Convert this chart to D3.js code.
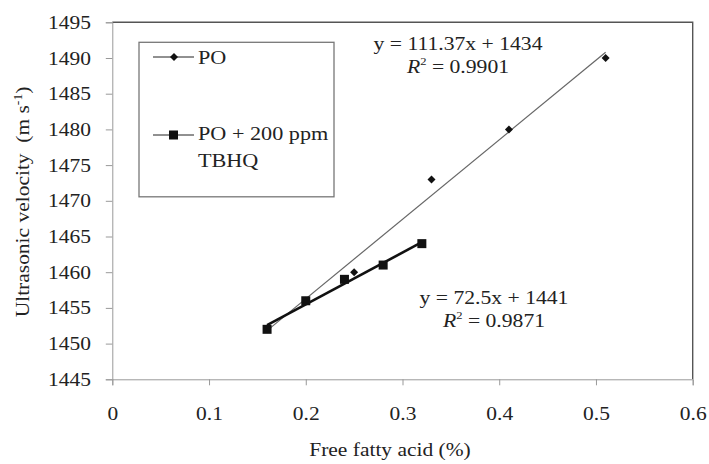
<!DOCTYPE html>
<html>
<head>
<meta charset="utf-8">
<script src="https://cdn.jsdelivr.net/npm/d3@7"></script>
<style>
  body { margin: 0; background: #fff; }
  svg text { font-family: "Liberation Serif", "DejaVu Serif", serif; fill: #222; }
</style>
</head>
<body>
<div id="chart"></div>
<script>
// data
var xTicks = [0, 0.1, 0.2, 0.3, 0.4, 0.5, 0.6];
var yTicks = [1445, 1450, 1455, 1460, 1465, 1470, 1475, 1480, 1485, 1490, 1495];

var poX = [0.16, 0.2, 0.25, 0.33, 0.41, 0.51];
var poY = [1452, 1456, 1460, 1473, 1480, 1490];

var tbhqX = [0.16, 0.2, 0.24, 0.28, 0.32];
var tbhqY = [1452, 1456, 1459, 1461, 1464];

// trend lines (slope, intercept) as printed on the chart
var poFit = [111.37, 1434];
var tbhqFit = [72.5, 1441];

var W = 709, H = 464;
var margin = {top: 22.3, right: 16.3, bottom: 84.7, left: 112.3};
var SX = 1.13; // the source picture's text is a bit wide

var svg = d3.select("#chart").append("svg")
    .attr("width", W)
    .attr("height", H);

var x = d3.scaleLinear().domain([0, 0.6]).range([margin.left, W - margin.right]);
var y = d3.scaleLinear().domain([1445, 1495]).range([H - margin.bottom, margin.top]);

// wide text placed at (px,py)
function wideText(px, py, size, k, anchor) {
    return svg.append("text")
        .attr("transform", "translate(" + px + "," + py + ") scale(" + k + ",1)")
        .attr("text-anchor", anchor || "start")
        .style("font-size", size + "px");
}

// top and right frame
svg.append("path")
    .attr("d", "M" + x(0) + "," + y(1495) + "H" + x(0.6) + "V" + y(1445))
    .attr("fill", "none")
    .attr("stroke", "#555")
    .attr("stroke-width", 1.4);

// y axis
var yAxis = svg.append("g")
    .attr("transform", "translate(" + x(0) + ",0)")
    .call(d3.axisLeft(y).tickValues(yTicks).tickSize(6.5).tickFormat(d3.format("d")));
yAxis.attr("font-family", null);
yAxis.select(".domain").attr("stroke", "#999");
yAxis.selectAll(".tick line").attr("stroke", "#999");
yAxis.selectAll(".tick text")
    .attr("x", (91 - x(0)) / SX)
    .attr("transform", "scale(" + SX + ",1)")
    .style("font-size", "19px")
    .attr("fill", "#222");

// x axis
var xAxis = svg.append("g")
    .attr("transform", "translate(0," + y(1445) + ")")
    .call(d3.axisBottom(x).tickValues(xTicks).tickSize(6).tickFormat(function(d) { return d === 0 ? "0" : d3.format(".1f")(d); }));
xAxis.attr("font-family", null);
xAxis.select(".domain").attr("stroke", "#999");
xAxis.selectAll(".tick line").attr("stroke", "#999");
xAxis.selectAll(".tick text")
    .attr("y", 420 - y(1445))
    .attr("dy", null)
    .attr("transform", "scale(" + SX + ",1)")
    .style("font-size", "19px")
    .attr("fill", "#222");

// axis titles
wideText(390, 456, 19, SX, "middle").text("Free fatty acid (%)");

var yt = svg.append("text")
    .attr("transform", "translate(28.5,202) rotate(-90) scale(" + SX + ",1)")
    .attr("text-anchor", "middle")
    .style("font-size", "19px")
    .style("white-space", "pre");
yt.append("tspan").text("Ultrasonic velocity  (m s");
yt.append("tspan").attr("dy", -7).style("font-size", "12px").text("-1");
yt.append("tspan").attr("dy", 7).text(")");

// trend lines
function trend(xs, fit) {
    var lo = d3.min(xs), hi = d3.max(xs);
    return [[lo, fit[0] * lo + fit[1]], [hi, fit[0] * hi + fit[1]]];
}
var line = d3.line().x(function(d) { return x(d[0]); }).y(function(d) { return y(d[1]); });

svg.append("path")
    .attr("d", line(trend(poX, poFit)))
    .attr("fill", "none")
    .attr("stroke", "#666")
    .attr("stroke-width", 1.2);

svg.append("path")
    .attr("d", line(trend(tbhqX, tbhqFit)))
    .attr("fill", "none")
    .attr("stroke", "#111")
    .attr("stroke-width", 2.6);

// markers
var diamond = "M0,-4L4,0L0,4L-4,0Z";
svg.selectAll(".po")
    .data(poX)
    .enter()
    .append("path")
    .attr("class", "po")
    .attr("d", diamond)
    .attr("transform", function(d, i) { return "translate(" + x(d) + "," + y(poY[i]) + ")"; })
    .attr("fill", "#111");

svg.selectAll(".tbhq")
    .data(tbhqX)
    .enter()
    .append("rect")
    .attr("class", "tbhq")
    .attr("x", function(d) { return x(d) - 4.5; })
    .attr("y", function(d, i) { return y(tbhqY[i]) - 4.5; })
    .attr("width", 9)
    .attr("height", 9)
    .attr("fill", "#111");

// equations
function equation(cx, cy, eq, r2) {
    wideText(cx, cy, 19, 1.14, "middle").text(eq);
    var t = wideText(cx, cy + 23, 19, 1.14, "middle");
    t.append("tspan").style("font-style", "italic").text("R");
    t.append("tspan").attr("dy", -8).style("font-size", "11px").text("2");
    t.append("tspan").attr("dy", 8).text(" = " + r2);
}
equation(458, 50, "y = 111.37x + 1434", "0.9901");
equation(494, 304, "y = 72.5x + 1441", "0.9871");

// legend
svg.append("rect")
    .attr("x", 139).attr("y", 42.3)
    .attr("width", 195).attr("height", 154.5)
    .attr("fill", "none")
    .attr("stroke", "#777")
    .attr("stroke-width", 1.3);

svg.append("line").attr("x1", 153).attr("x2", 194).attr("y1", 57).attr("y2", 57)
    .attr("stroke", "#222").attr("stroke-width", 1);
svg.append("path").attr("d", diamond).attr("transform", "translate(174,57)").attr("fill", "#111");
wideText(198, 63.5, 18.5, 1.2).text("PO");

svg.append("line").attr("x1", 153).attr("x2", 194).attr("y1", 135).attr("y2", 135)
    .attr("stroke", "#222").attr("stroke-width", 1);
svg.append("rect").attr("x", 169).attr("y", 130.5).attr("width", 9).attr("height", 9).attr("fill", "#111");
wideText(198, 139.5, 18.5, 1.2).text("PO + 200 ppm");
wideText(198, 166.5, 18.5, 1.2).text("TBHQ");
</script>
</body>
</html>
